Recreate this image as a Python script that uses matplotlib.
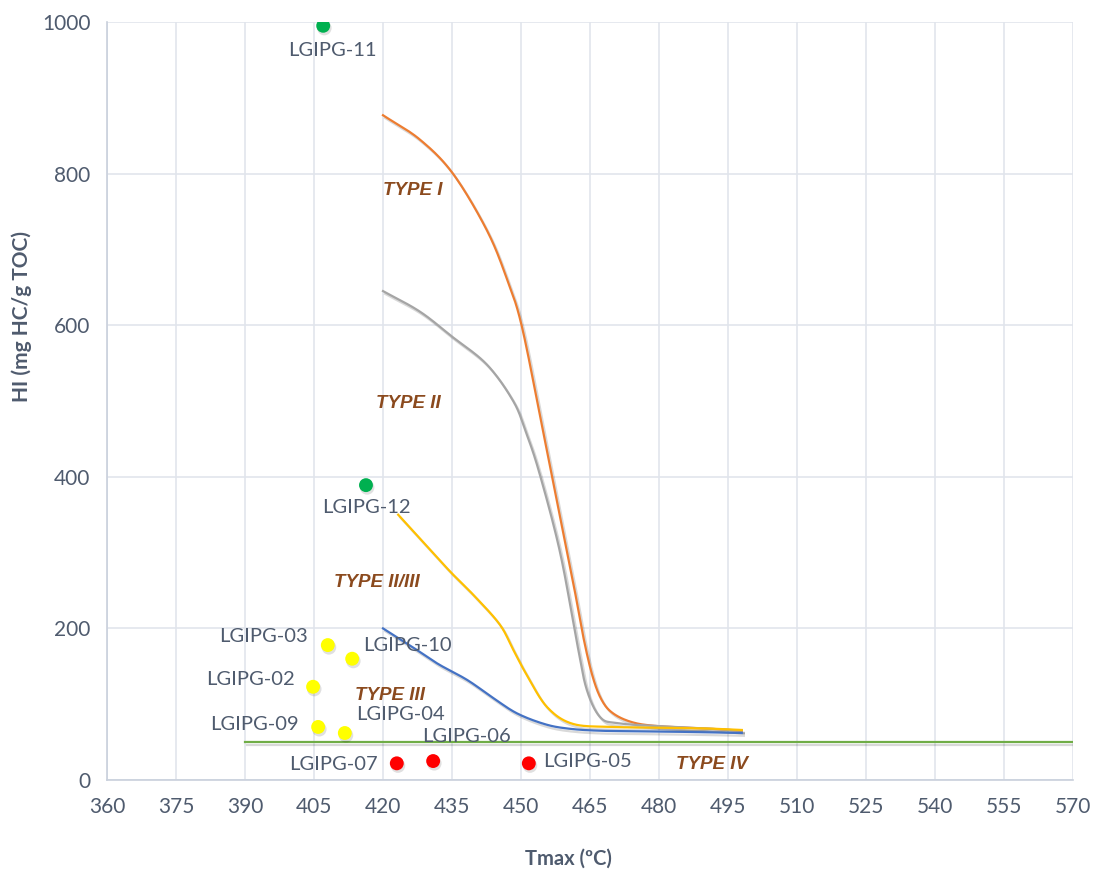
import numpy as np
import matplotlib.pyplot as plt
import matplotlib.patheffects as pe

# ======================================
# DATOS
# ======================================

# Muestras (Tmax en ºC, HI en mg HC/g TOC)
muestras = ['LGIPG-11', 'LGIPG-12', 'LGIPG-03', 'LGIPG-10', 'LGIPG-02',
            'LGIPG-09', 'LGIPG-04', 'LGIPG-07', 'LGIPG-06', 'LGIPG-05']
tmax = [407, 416.3, 408, 413.3, 404.8, 405.9, 411.7, 423, 430.9, 451.7]
hi = [995, 389, 178, 160, 123, 70, 62, 22, 25, 22]
colores = ['#00B050', '#00B050', '#FFFF00', '#FFFF00', '#FFFF00',
           '#FFFF00', '#FFFF00', '#FF0000', '#FF0000', '#FF0000']

# Curvas de tipo de kerógeno
t1_x = [420, 428, 435.2, 442.6, 447, 450.2, 454.6, 458, 461.3, 463.5, 465.5, 467.5, 470, 474.3, 480, 490, 498]
t1_y = [877, 845, 800, 725, 660, 598, 466, 362, 262, 190, 138, 106, 88, 76, 71, 68, 65]

t2_x = [420, 428, 435, 442.6, 448.3, 451, 454, 458.5, 462.2, 464.3, 467.2, 470.9, 480, 490, 498]
t2_y = [645, 618, 585, 548, 500, 460, 405, 300, 180, 119, 83, 75, 71, 68, 65]

t23_x = [423.3, 429, 434.6, 440, 445.4, 448.3, 451.3, 455.7, 461.3, 470, 480, 490, 498]
t23_y = [350, 312, 275, 242, 205, 172, 138, 96, 74, 70, 69, 68, 66]

t3_x = [420, 426.5, 432, 438.3, 444, 449.1, 455, 460, 467.2, 480, 490, 498]
t3_y = [200, 175, 153, 132, 108, 88, 74, 68, 65, 64, 63, 62]

t4_x = [390, 570]
t4_y = [50, 50]

# Etiquetas de las muestras: (x, y, alineación)
etq_x = [409, 416.3, 403.7, 415.7, 400.9, 401.7, 414.1, 418.9, 428.5, 454.8]
etq_y = [963, 360, 189, 177, 132, 73, 86, 21, 57, 25]
etq_ha = ['center', 'center', 'right', 'left', 'right', 'right', 'left', 'right', 'left', 'left']

tipos = ['TYPE I', 'TYPE II', 'TYPE II/III', 'TYPE III', 'TYPE IV']
tipos_x = [420, 418.5, 409.3, 414, 483.7]
tipos_y = [778, 497, 261, 112, 20]


# ======================================
# LÍNEA SUAVIZADA (Catmull-Rom)
# ======================================

def suavizar(x, y, n=20):
    p = np.column_stack([x, y]).astype(float)
    p = np.vstack([2*p[0] - p[1], p, 2*p[-1] - p[-2]])
    out = []
    t = np.linspace(0, 1, n, endpoint=False)[:, None]
    for i in range(1, len(p) - 2):
        p0, p1, p2, p3 = p[i-1], p[i], p[i+1], p[i+2]
        seg = 0.5*((2*p1) + (-p0 + p2)*t + (2*p0 - 5*p1 + 4*p2 - p3)*t**2
                   + (-p0 + 3*p1 - 3*p2 + p3)*t**3)
        out.append(seg)
    out.append(p[-2][None, :])
    out = np.vstack(out)
    return out[:, 0], out[:, 1]


# ======================================
# GRÁFICA
# ======================================

plt.rcParams['font.family'] = ['Lato', 'DejaVu Sans']
gris_txt = '#4F5B6E'

fig = plt.figure(figsize=(11, 8.75), dpi=100)
ax = fig.add_axes([107/1100, 1 - 780/875, (1073 - 107)/1100, (780 - 22)/875])

sombra = [pe.SimpleLineShadow(offset=(1.5, -2), alpha=0.15, shadow_color='k'), pe.Normal()]

for cx, cy, col in [(t1_x, t1_y, '#ED7D31'), (t2_x, t2_y, '#A5A5A5'),
                    (t23_x, t23_y, '#FFC000'), (t3_x, t3_y, '#4472C4')]:
    sx, sy = suavizar(cx, cy)
    ax.plot(sx, sy, color=col, lw=1.6, path_effects=sombra)
ax.plot(t4_x, t4_y, color='#70AD47', lw=1.6, path_effects=sombra)

# Sombra de los puntos
ax.scatter(np.array(tmax) + 0.25, np.array(hi) - 3, s=110, color='k', alpha=0.12,
           edgecolors='none', zorder=3)
ax.scatter(tmax, hi, s=100, c=colores, edgecolors='none', zorder=4)

for nombre, x, y, ha in zip(muestras, etq_x, etq_y, etq_ha):
    ax.text(x, y, nombre, ha=ha, va='center', fontsize=14.5, color=gris_txt, zorder=5)

for t, x, y in zip(tipos, tipos_x, tipos_y):
    ax.text(x, y, t, ha='left', va='center', fontsize=13.5, color='#8B4A1E',
            fontstyle='italic', fontweight='bold', family='Liberation Sans', zorder=5)

ax.set_xlim(360, 570)
ax.set_ylim(0, 1000)
ax.set_xticks(np.arange(360, 571, 15))
ax.set_yticks(np.arange(0, 1001, 200))
ax.grid(True, color='#E1E5EC', lw=1.2)
ax.set_axisbelow(True)
for lado in ['top', 'right']:
    ax.spines[lado].set_visible(False)
for lado in ['left', 'bottom']:
    ax.spines[lado].set_color('#C9D0DC')
    ax.spines[lado].set_linewidth(1.2)
ax.tick_params(length=0, labelsize=15, labelcolor=gris_txt, pad=12)

fig.text(568/1100, 1 - 859/875, 'Tmax (ºC)', ha='center', va='center',
         fontsize=14.5, fontweight='bold', color=gris_txt)
fig.text(22/1100, 1 - 316/875, 'HI (mg HC/g TOC)', ha='center', va='center',
         rotation=90, fontsize=15, fontweight='bold', color=gris_txt)

plt.savefig('out.png', dpi=100)
